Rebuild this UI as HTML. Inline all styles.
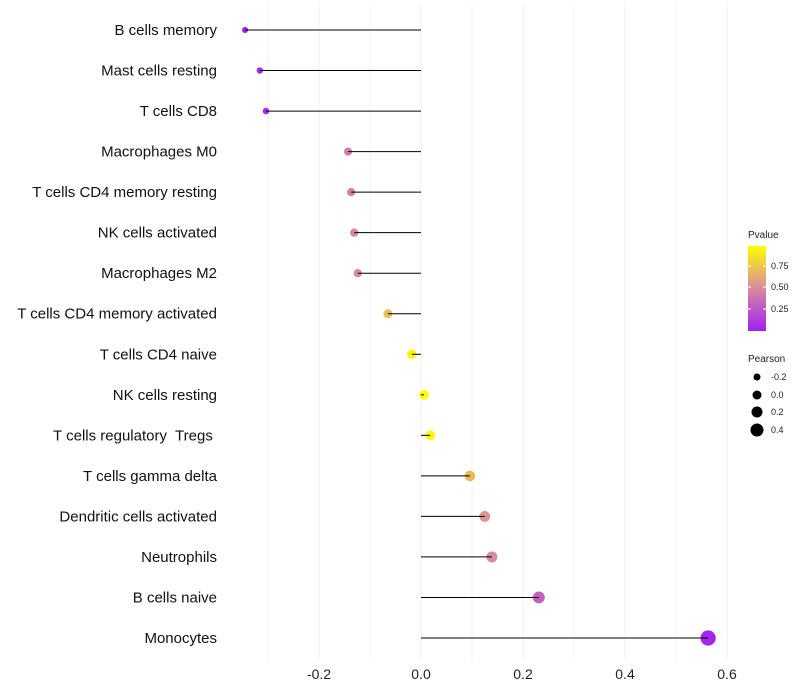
<!DOCTYPE html>
<html><head><meta charset="utf-8"><style>
body{margin:0;background:#fff;font-family:"Liberation Sans",sans-serif}
svg{display:block}
text{white-space:pre}
</style></head><body>
<svg id="chart" width="800" height="700">
<defs><linearGradient id="pg" x1="0" y1="1" x2="0" y2="0">
<stop offset="0" stop-color="#a020f0"/><stop offset="0.5" stop-color="#d88aa0"/><stop offset="1" stop-color="#ffff00"/>
</linearGradient></defs>
<g id="grid"></g><g id="points"></g><g id="marks"></g><g id="labels"></g>
<g font-size="9" fill="#222">
<text x="748" y="238" font-size="10">Pvalue</text>
<rect x="748" y="246" width="18" height="85" fill="url(#pg)"/>
<line x1="748" x2="751" y1="309" y2="309" stroke="#fff"/><line x1="763" x2="766" y1="309" y2="309" stroke="#fff"/>
<line x1="748" x2="751" y1="287" y2="287" stroke="#fff"/><line x1="763" x2="766" y1="287" y2="287" stroke="#fff"/>
<line x1="748" x2="751" y1="266" y2="266" stroke="#fff"/><line x1="763" x2="766" y1="266" y2="266" stroke="#fff"/>
<text x="771" y="312">0.25</text><text x="771" y="290">0.50</text><text x="771" y="269">0.75</text>
</g>
<g font-size="9" fill="#222">
<text x="748" y="362" font-size="10">Pearson</text>
<circle cx="757" cy="377" r="3.5" fill="#000"/><text x="771" y="380">-0.2</text>
<circle cx="757" cy="395" r="4.5" fill="#000"/><text x="771" y="398">0.0</text>
<circle cx="757" cy="412" r="5.5" fill="#000"/><text x="771" y="415">0.2</text>
<circle cx="757" cy="430" r="6.5" fill="#000"/><text x="771" y="433">0.4</text>
</g>
</svg>
<script>
const categories=["B cells memory","Mast cells resting","T cells CD8","Macrophages M0","T cells CD4 memory resting","NK cells activated","Macrophages M2","T cells CD4 memory activated","T cells CD4 naive","NK cells resting","T cells regulatory  Tregs ","T cells gamma delta","Dendritic cells activated","Neutrophils","B cells naive","Monocytes"];
const pearson=[-0.345,-0.316,-0.304,-0.143,-0.137,-0.131,-0.124,-0.065,-0.018,0.006,0.018,0.096,0.125,0.139,0.231,0.563];
const pvalue=[0.03,0.05,0.06,0.45,0.45,0.47,0.5,0.72,0.95,1.0,0.97,0.7,0.55,0.5,0.3,0.02];
const xTicks=[-0.2,0,0.2,0.4,0.6];
const xTickLabels=["-0.2","0.0","0.2","0.4","0.6"];
const minorTicks=[-0.3,-0.1,0.1,0.3,0.5];
const NS="http://www.w3.org/2000/svg";
const x=v=>421+v*510;
const y=i=>30+i*(638-30)/(categories.length-1);
function lerp(a,b,t){return a.map((c,k)=>Math.round(c+(b[k]-c)*t));}
function color(p){const A=[160,32,240],B=[216,138,160],C=[255,255,0];
 const c=p<0.5?lerp(A,B,p/0.5):lerp(B,C,(p-0.5)/0.5);return `rgb(${c.join(',')})`;}
function mk(t,a,parent){const e=document.createElementNS(NS,t);for(const k in a)e.setAttribute(k,a[k]);parent.appendChild(e);return e;}
const grid=document.getElementById('grid'),marks=document.getElementById('marks'),labels=document.getElementById('labels'),points=document.getElementById('points');
minorTicks.concat(xTicks).forEach(v=>{const l=mk('line',{x1:x(v),x2:x(v),y1:5,y2:660,stroke:'#f2f2f2','stroke-width':1},grid);

});
xTicks.forEach((v,i)=>{const t=mk('text',{x:x(v),y:679,'text-anchor':'middle','font-size':14,fill:'#222'},labels);t.textContent=xTickLabels[i];

});
categories.forEach((c,i)=>{
 const t=mk('text',{x:217,y:y(i)+5,'text-anchor':'end','font-size':15,fill:'#111'},labels);t.textContent=c;
 
 
 const r=Math.max(2,4.8+5*pearson[i]);
 const d=mk('circle',{cx:x(pearson[i]),cy:y(i),r:r,fill:color(pvalue[i])},points);
 
 
 const l=mk('line',{x1:x(0),x2:x(pearson[i]),y1:y(i),y2:y(i),stroke:'#000','stroke-width':1},marks);
 
 
});
</script>
</body></html>
